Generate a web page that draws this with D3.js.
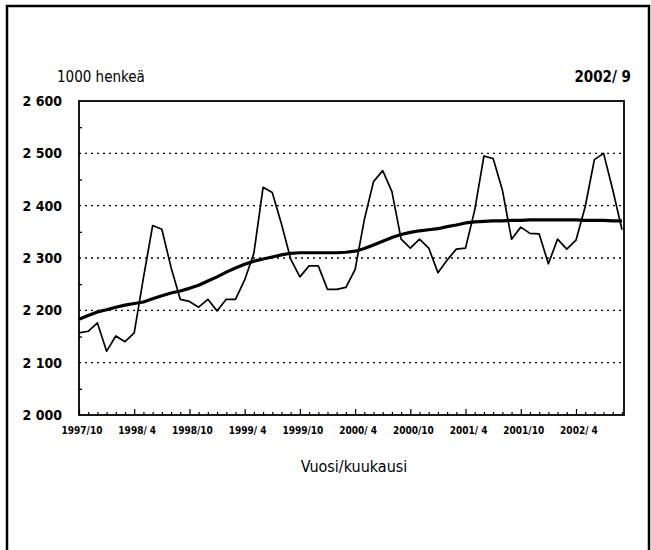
<!DOCTYPE html>
<html>
<head>
<meta charset="utf-8">
<title>Työlliset</title>
<script src="https://d3js.org/d3.v7.min.js"></script>
<style>
  body { margin: 0; background: #fff; }
  text { font-family: "Liberation Sans Narrow", "DejaVu Sans Condensed", "Liberation Sans", sans-serif; fill: #000; }
</style>
</head>
<body>
<svg id="chart" width="651" height="550"></svg>
<script>
// months 1997/10 .. 2002/9
const months = [
  "1997/10","1997/11","1997/12",
  "1998/ 1","1998/ 2","1998/ 3","1998/ 4","1998/ 5","1998/ 6","1998/ 7","1998/ 8","1998/ 9","1998/10","1998/11","1998/12",
  "1999/ 1","1999/ 2","1999/ 3","1999/ 4","1999/ 5","1999/ 6","1999/ 7","1999/ 8","1999/ 9","1999/10","1999/11","1999/12",
  "2000/ 1","2000/ 2","2000/ 3","2000/ 4","2000/ 5","2000/ 6","2000/ 7","2000/ 8","2000/ 9","2000/10","2000/11","2000/12",
  "2001/ 1","2001/ 2","2001/ 3","2001/ 4","2001/ 5","2001/ 6","2001/ 7","2001/ 8","2001/ 9","2001/10","2001/11","2001/12",
  "2002/ 1","2002/ 2","2002/ 3","2002/ 4","2002/ 5","2002/ 6","2002/ 7","2002/ 8","2002/ 9"
];
// monthly figures, 1000 persons
const raw = [
  2157, 2160, 2176,
  2122, 2151, 2140, 2157, 2262, 2362, 2355, 2282, 2221, 2217, 2206, 2221,
  2199, 2221, 2221, 2258, 2309, 2435, 2425, 2365, 2298, 2264, 2285, 2285,
  2240, 2240, 2244, 2278, 2373, 2446, 2467, 2427, 2336, 2319, 2336, 2319,
  2272, 2296, 2317, 2319, 2392, 2495, 2490, 2430, 2336, 2359, 2347, 2346,
  2289, 2336, 2317, 2334, 2398, 2488, 2500, 2430, 2354
];
// trend
const trend = [
  2183, 2190, 2197,
  2201, 2206, 2210, 2213, 2216, 2222, 2228, 2233, 2237, 2242, 2248, 2256,
  2264, 2273, 2281, 2288, 2294, 2298, 2302, 2306, 2309, 2310, 2310, 2310,
  2310, 2310, 2311, 2313, 2318, 2325, 2332, 2339, 2345, 2349, 2352, 2354,
  2356, 2360, 2363, 2367, 2369, 2370, 2371, 2371, 2372, 2372, 2373, 2373,
  2373, 2373, 2373, 2373, 2372, 2372, 2372, 2371, 2371
];
const xLabels = ["1997/10","1998/ 4","1998/10","1999/ 4","1999/10","2000/ 4","2000/10","2001/ 4","2001/10","2002/ 4"];
const yTicks = [2000, 2100, 2200, 2300, 2400, 2500, 2600];
const yMinor = [2050, 2150, 2250, 2350, 2450, 2550];

var svg = d3.select("#chart");

// outer frame
svg.append("rect").attr("x", 7).attr("y", 6).attr("width", 642).attr("height", 560)
  .attr("fill", "none").attr("stroke", "#000").attr("stroke-width", 2.5);

var pl = 79, pr = 624, pt = 101, pb = 415;
var x = d3.scalePoint().domain(months).range([pl, 622]);
var y = d3.scaleLinear().domain([2000, 2600]).range([pb, pt]);

// dotted grid
svg.append("g").selectAll("line").data(yTicks.slice(1, -1)).enter().append("line")
  .attr("x1", pl).attr("x2", pr).attr("y1", d => y(d)).attr("y2", d => y(d))
  .attr("stroke", "#000").attr("stroke-width", 1.3).attr("stroke-dasharray", "2,4");

// frame of the plot
svg.append("rect").attr("x", pl).attr("y", pt).attr("width", pr - pl).attr("height", pb - pt)
  .attr("fill", "none").attr("stroke", "#000").attr("stroke-width", 1.8);

// y axis
var yAxis = svg.append("g").attr("transform", "translate(" + pl + ",0)")
  .call(d3.axisRight(y).tickValues(yMinor).tickSize(3).tickFormat(""));
yAxis.select(".domain").remove();
yAxis.selectAll("line").attr("stroke-width", 1.3);

svg.append("g").selectAll("text").data(yTicks).enter().append("text")
  .attr("x", 62).attr("y", d => y(d) + 5).attr("text-anchor", "end")
  .attr("font-size", 14).attr("font-weight", "bold")
  .text(d => d3.format(",")(d).replace(",", " "));

// x axis ticks
var xAxis = svg.append("g").attr("transform", "translate(0," + pb + ")")
  .call(d3.axisTop(x).tickSize(3).tickFormat(""));
xAxis.select(".domain").remove();
xAxis.selectAll("line").attr("stroke-width", 1.2);
xAxis.selectAll(".tick").filter(d => xLabels.includes(d)).select("line").attr("y2", -6);

svg.append("g").selectAll("text").data(xLabels).enter().append("text")
  .attr("x", d => x(d) + 3).attr("y", 434).attr("text-anchor", "middle")
  .attr("font-size", 10).attr("font-weight", "bold").text(d => d);

// lines
var line = d3.line().x((d, i) => x(months[i])).y(d => y(d));
svg.append("path").datum(trend).attr("d", line).attr("fill", "none")
  .attr("stroke", "#000").attr("stroke-width", 3.2).attr("stroke-linejoin", "round");
svg.append("path").datum(raw).attr("d", line).attr("fill", "none")
  .attr("stroke", "#000").attr("stroke-width", 1.7).attr("stroke-linejoin", "round");

// texts
svg.append("text").attr("x", 57).attr("y", 82).attr("font-size", 15).text("1000 henkeä");
svg.append("text").attr("x", 631).attr("y", 82).attr("text-anchor", "end")
  .attr("font-size", 15).attr("font-weight", "bold").text("2002/ 9");
svg.append("text").attr("x", 354).attr("y", 472).attr("text-anchor", "middle")
  .attr("font-size", 16).text("Vuosi/kuukausi");
</script>
</body>
</html>
